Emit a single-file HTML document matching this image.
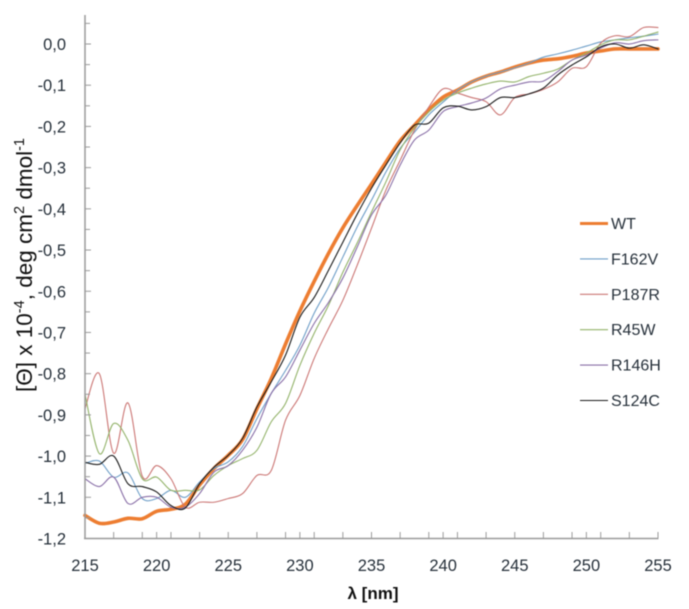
<!DOCTYPE html>
<html lang="en">
<head>
<meta charset="utf-8">
<title>CD spectra chart</title>
<style>
html,body{margin:0;padding:0;background:#fff;}
#chart{display:block;width:689px;height:609px;filter:blur(0.4px);}
text{font-family:"Liberation Sans",sans-serif;fill:#26303a;}
</style>
</head>
<body>
<svg id="chart" xmlns="http://www.w3.org/2000/svg" width="689" height="609" viewBox="0 0 689 609">
  <g id="series-layer"></g>
  <g id="axis-layer"></g>
  <g id="legend-layer"></g>
  <text x="373" y="599" text-anchor="middle" font-size="17" font-weight="bold" style="fill:#111">λ [nm]</text>
  <text transform="translate(32,265) rotate(-90)" text-anchor="middle" font-size="22.5" style="fill:#111">[Θ] x 10<tspan font-size="14.5" dy="-8">-4</tspan><tspan dy="8">, deg cm</tspan><tspan font-size="14.5" dy="-8">2</tspan><tspan dy="8"> dmol</tspan><tspan font-size="14.5" dy="-8">-1</tspan></text>
</svg>
<script>
const wavelengths = [215,216,217,218,219,220,221,222,223,224,225,226,227,228,229,230,231,232,233,234,235,236,237,238,239,240,241,242,243,244,245,246,247,248,249,250,251,252,253,254,255];
const wtValues = [-1.144,-1.163,-1.160,-1.151,-1.152,-1.134,-1.129,-1.117,-1.070,-1.030,-0.998,-0.960,-0.885,-0.812,-0.728,-0.648,-0.576,-0.508,-0.446,-0.392,-0.340,-0.287,-0.235,-0.197,-0.160,-0.129,-0.112,-0.092,-0.078,-0.068,-0.056,-0.046,-0.039,-0.036,-0.030,-0.022,-0.017,-0.012,-0.012,-0.012,-0.012];
const f162vValues = [-1.018,-1.012,-1.051,-1.041,-1.103,-1.103,-1.083,-1.100,-1.063,-1.030,-1.014,-0.977,-0.909,-0.848,-0.792,-0.731,-0.653,-0.590,-0.517,-0.444,-0.379,-0.311,-0.253,-0.214,-0.172,-0.141,-0.112,-0.092,-0.078,-0.068,-0.058,-0.046,-0.032,-0.024,-0.015,-0.005,0.005,0.010,0.015,0.019,0.024];
const p187rValues = [-0.885,-0.800,-0.993,-0.871,-1.049,-1.023,-1.055,-1.124,-1.112,-1.112,-1.103,-1.091,-1.047,-1.035,-0.913,-0.853,-0.763,-0.690,-0.622,-0.537,-0.447,-0.355,-0.282,-0.209,-0.153,-0.109,-0.119,-0.130,-0.140,-0.172,-0.130,-0.121,-0.110,-0.092,-0.059,-0.055,0.002,0.020,0.018,0.040,0.040];
const r45wValues = [-0.850,-0.994,-0.921,-0.962,-1.055,-1.051,-1.083,-1.083,-1.082,-1.047,-1.023,-1.006,-0.986,-0.917,-0.872,-0.780,-0.702,-0.634,-0.554,-0.483,-0.408,-0.335,-0.257,-0.204,-0.165,-0.136,-0.119,-0.107,-0.097,-0.090,-0.092,-0.079,-0.071,-0.061,-0.039,-0.022,-0.002,0.010,0.010,0.019,0.029];
const r146hValues = [-1.055,-1.074,-1.051,-1.115,-1.100,-1.100,-1.124,-1.124,-1.091,-1.039,-1.023,-0.986,-0.930,-0.848,-0.808,-0.743,-0.678,-0.627,-0.568,-0.493,-0.415,-0.367,-0.294,-0.233,-0.209,-0.164,-0.152,-0.143,-0.131,-0.109,-0.100,-0.092,-0.090,-0.067,-0.039,-0.027,-0.010,0.003,0.000,0.008,0.010];
const s124cValues = [-1.015,-1.020,-1.000,-1.067,-1.074,-1.087,-1.120,-1.126,-1.067,-1.027,-0.998,-0.957,-0.881,-0.820,-0.755,-0.663,-0.615,-0.549,-0.481,-0.413,-0.350,-0.294,-0.240,-0.197,-0.192,-0.155,-0.151,-0.160,-0.152,-0.130,-0.130,-0.121,-0.107,-0.075,-0.051,-0.031,-0.007,0.000,-0.010,-0.002,-0.012];
const seriesNames = ["WT","F162V","P187R","R45W","R146H","S124C"];
const seriesColors = ["#ED7D31","#6f9fc8","#cb7674","#93b36a","#8a70a8","#1c1c1c"];
const xTickLabels = ["215","220","225","230","235","240","245","250","255"];
const yTickLabels = ["0,0","-0,1","-0,2","-0,3","-0,4","-0,5","-0,6","-0,7","-0,8","-0,9","-1,0","-1,1","-1,2"];

const seriesValues = [wtValues,f162vValues,p187rValues,r45wValues,r146hValues,s124cValues];
const SVGNS = "http://www.w3.org/2000/svg";
const xScale = v => 85 + (v - 215) * (658 - 85) / 40;
const yScale = v => 44 - v * (538.5 - 44) / 1.2;

function make(tag, attrs, parent) {
  const el = document.createElementNS(SVGNS, tag);
  for (const k in attrs) el.setAttribute(k, attrs[k]);
  parent.appendChild(el);
  return el;
}

function smoothPath(xs, ys) {
  const pts = xs.map((x, i) => [xScale(x), yScale(ys[i])]);
  let d = "M" + pts[0][0].toFixed(2) + " " + pts[0][1].toFixed(2);
  for (let i = 0; i < pts.length - 1; i++) {
    const p0 = pts[Math.max(i - 1, 0)], p1 = pts[i], p2 = pts[i + 1], p3 = pts[Math.min(i + 2, pts.length - 1)];
    const c1x = p1[0] + (p2[0] - p0[0]) / 6, c1y = p1[1] + (p2[1] - p0[1]) / 6;
    const c2x = p2[0] - (p3[0] - p1[0]) / 6, c2y = p2[1] - (p3[1] - p1[1]) / 6;
    d += "C" + c1x.toFixed(2) + " " + c1y.toFixed(2) + " " + c2x.toFixed(2) + " " + c2y.toFixed(2) + " " + p2[0].toFixed(2) + " " + p2[1].toFixed(2);
  }
  return d;
}

const seriesLayer = document.getElementById("series-layer");
const axisLayer = document.getElementById("axis-layer");
const legendLayer = document.getElementById("legend-layer");
const axisColor = "#9a9a9a";

/* axes */
const yAxis = make("line", {x1: 85, x2: 85, y1: 15, y2: 539, stroke: axisColor, "stroke-width": 1.5}, axisLayer);


const xAxis = make("line", {x1: 84, x2: 658.5, y1: 538.5, y2: 538.5, stroke: axisColor, "stroke-width": 1.5}, axisLayer);



yTickLabels.forEach((label, i) => {
  const val = -parseFloat(label.replace("-", "").replace(",", "."));
  const py = yScale(val);
  const tick = make("line", {x1: 85, x2: 91, y1: py, y2: py, stroke: axisColor, "stroke-width": 1}, axisLayer);
  
  
  const txt = make("text", {x: 66, y: py + 6, "text-anchor": "end", "font-size": 16.5}, axisLayer);
  txt.textContent = label;
  
  
  const minorVal = val + 0.05;
  const minor = make("line", {x1: 85, x2: 90, y1: yScale(minorVal), y2: yScale(minorVal), stroke: axisColor, "stroke-width": 1}, axisLayer);
  
  
});

wavelengths.forEach(w => {
  if (w % 2 === 1 || w % 5 === 0) {
    const px = xScale(w);
    const tick = make("line", {x1: px, x2: px, y1: 532, y2: 538.5, stroke: axisColor, "stroke-width": 1}, axisLayer);
    
    
  }
});

xTickLabels.forEach(label => {
  const txt = make("text", {x: xScale(+label), y: 571, "text-anchor": "middle", "font-size": 16.5}, axisLayer);
  txt.textContent = label;
  
  
});

/* series, drawn in legend order so thin traces sit over WT */
[0, 1, 2, 3, 4, 5].forEach(i => {
  const p = make("path", {
    d: smoothPath(wavelengths, seriesValues[i]),
    fill: "none",
    stroke: seriesColors[i],
    "stroke-width": i === 0 ? 3.6 : 1.1,
    "stroke-linejoin": "round",
    "stroke-linecap": "round"
  }, seriesLayer);
  
  
});

/* legend */
const legendRowHeight = 35.4;
seriesNames.forEach((name, i) => {
  const ly = 223.5 + i * legendRowHeight;
  const ln = make("line", {x1: 580, x2: 608, y1: ly, y2: ly, stroke: seriesColors[i], "stroke-width": i === 0 ? 3 : 1.1}, legendLayer);
  
  
  const txt = make("text", {x: 611, y: ly + 5.5, "font-size": 16}, legendLayer);
  txt.textContent = name;
  
  
});
</script>
</body>
</html>
